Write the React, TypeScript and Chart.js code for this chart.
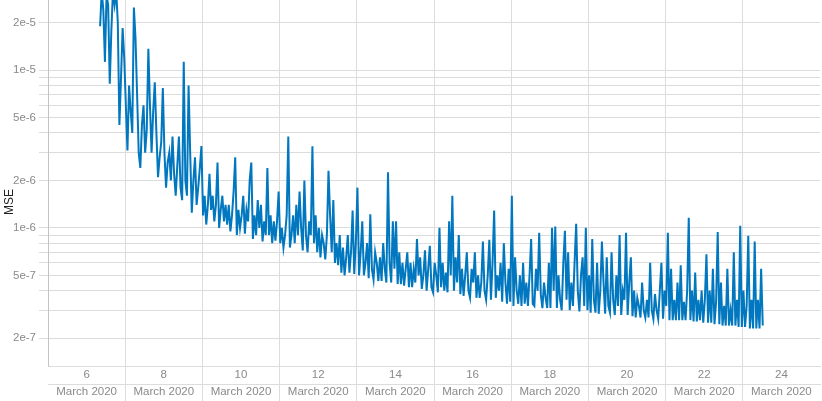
import { useEffect, useRef } from 'react';
import { Chart, registerables } from 'chart.js';

Chart.register(...registerables);

// Time axis: days of March 2020, one sample per hour
const DAY_START = 7.35;
const DAY_STEP = 1 / 24;

// MSE values in units of 1e-7
const mseE7 = [
  190, 320, 240, 113, 300, 260, 82, 180, 320, 260,
  320, 200, 45, 90, 185, 120, 60, 31, 80, 55,
  40, 250, 160, 70, 30, 24, 45, 60, 30, 42,
  137, 60, 30, 55, 84, 40, 21, 28, 35, 77,
  30, 18, 26, 30, 20, 38, 22, 16, 25, 38,
  18, 15, 113, 20, 16, 80, 30, 12.5, 20, 28,
  14, 18, 24, 33, 12, 16, 10.5, 14, 22, 13,
  16, 11, 14, 26, 10, 13, 16, 11, 14, 10.5,
  14, 9.5, 12, 17, 28, 9, 13, 10, 12, 16,
  9.2, 13, 11, 20, 26, 8.5, 12, 9, 15, 10,
  14, 8.2, 11, 9, 24, 9, 12, 8, 11, 8.3,
  11, 17, 8, 10, 7.5, 9, 12, 38, 7.5, 9,
  12, 8, 14, 9, 17, 10, 7.2, 20, 9, 7,
  11, 9, 33, 8, 12, 7, 10, 6.5, 9, 8,
  6.3, 9, 23, 12, 7, 15, 6, 8, 5.8, 9,
  5.2, 7.5, 5.0, 6.5, 9, 5.2, 7, 12.9, 5.1, 8,
  18, 5.0, 7, 11, 5.0, 6, 8, 4.8, 12.2, 5.5,
  4.7, 7, 6, 4.6, 6.5, 4.6, 8, 5.5, 4.5, 22.5,
  6, 4.5, 11, 5.5, 11, 4.4, 7, 4.4, 6, 4.3,
  5.5, 7, 4.2, 6, 4.2, 5.5, 4.5, 8.5, 5, 6.5,
  4.1, 5, 7.2, 4, 5.5, 7.7, 4.2, 3.9, 6, 5,
  3.9, 10, 4.2, 6, 4, 5.2, 3.9, 11, 5, 16,
  4, 6.5, 4.5, 9, 3.8, 5.5, 3.7, 5, 7, 4,
  3.6, 5.5, 4.5, 7, 3.6, 5, 3.6, 4.5, 8.2, 4,
  3.5, 5, 8.4, 3.5, 6, 12.9, 3.6, 5, 4, 6,
  3.4, 8, 4.5, 3.3, 5.5, 3.4, 16, 3.2, 6.5, 4,
  3.3, 5, 3.2, 6, 3.3, 4.5, 3.2, 5, 8.5, 3.3,
  3.2, 5.5, 4, 9.3, 3.8, 3.1, 4.5, 3.6, 3.1, 6,
  3.1, 10, 4, 10.2, 3.1, 5, 3.5, 3.0, 6, 9.6,
  3.5, 7, 3.0, 4.5, 3.2, 6, 10.6, 4, 2.95, 5,
  6.5, 3.2, 10, 3.0, 5, 2.9, 8.5, 3.5, 2.9, 6,
  2.85, 4, 8.2, 4.5, 2.85, 6.5, 3.2, 2.9, 7, 3.5,
  2.8, 5, 3.2, 9, 2.8, 4, 3.5, 9.3, 2.8, 4.5,
  6.5, 2.75, 4, 2.7, 3.6, 3.2, 2.7, 4.5, 3, 2.7,
  3.5, 2.7, 6, 3.0, 2.65, 3.8, 3.0, 2.65, 4, 6,
  2.65, 4, 3.2, 9.3, 2.6, 5.5, 2.6, 3.5, 2.6, 4.5,
  2.6, 5.8, 2.6, 3.4, 2.6, 4, 11.6, 2.6, 4, 2.55,
  5.2, 2.55, 3.5, 2.6, 4, 2.5, 3.5, 6.8, 2.5, 4,
  2.5, 5.5, 2.45, 3.4, 9.4, 2.45, 4.5, 2.4, 3.2, 2.4,
  5.5, 2.4, 3, 2.4, 7, 2.4, 3.5, 2.35, 10.3, 2.35,
  4, 2.35, 3.2, 8.9, 2.3, 3.5, 2.3, 8.2, 2.3, 3.5,
  2.3, 5.5, 2.4,
];

const X_MIN = 6;
const X_MAX = 26;
const X_STEP = 2;
const MONTH_LABEL = 'March 2020';

const Y_MIN = 1.33e-7;
const Y_MAX = 2.79e-5;
const Y_EXPONENTS = [-7, -6, -5];
const Y_LABEL_SIGNIFICANDS = [1, 2, 5];
const Y_TITLE = 'MSE';

export default function App() {
  const ref = useRef<HTMLCanvasElement>(null);

  useEffect(() => {
    document.body.style.margin = '0';
    const canvas = ref.current;
    if (!canvas) return;

    const points = mseE7.map((v, i) => ({ x: DAY_START + i * DAY_STEP, y: v * 1e-7 }));
    const family = "'Helvetica Neue', Helvetica, Arial, 'Liberation Sans', sans-serif";
    const tickFont = { family, size: 11.5 };
    const gridColor = '#dcdcdc';
    const tickTextColor = '#8a8a8a';

    const titlePlugin = {
      id: 'yTitle',
      afterDraw(chart: any) {
        const { ctx } = chart;
        ctx.save();
        ctx.translate(10, 202);
        ctx.rotate(-Math.PI / 2);
        ctx.textAlign = 'center';
        ctx.textBaseline = 'middle';
        ctx.font = `12px ${family}`;
        ctx.fillStyle = '#222';
        ctx.fillText(Y_TITLE, 0, 0);
        ctx.restore();
      },
    };

    const chart = new Chart(canvas, {
      type: 'line',
      data: {
        datasets: [
          {
            label: Y_TITLE,
            data: points,
            borderColor: '#0077be',
            backgroundColor: '#0077be',
            borderWidth: 2,
            pointRadius: 0,
            tension: 0,
            fill: false,
          },
        ],
      },
      options: {
        animation: false,
        responsive: false,
        maintainAspectRatio: false,
        layout: { padding: { left: 0, right: 2, top: 0, bottom: 0 } },
        plugins: { legend: { display: false }, tooltip: { enabled: false } },
        scales: {
          x: {
            type: 'linear',
            position: 'bottom',
            weight: 0,
            min: X_MIN,
            max: X_MAX,
            afterFit: (s: any) => { s.height = 18; s.paddingLeft = 0; s.paddingRight = 0; },
            ticks: {
              stepSize: X_STEP,
              autoSkip: false,
              maxRotation: 0,
              labelOffset: 38.6,
              padding: -16,
              color: tickTextColor,
              font: tickFont,
              callback: (v: any) => (v === X_MAX ? null : String(v)),
            },
            grid: {
              color: gridColor,
              tickLength: 18,
              tickColor: (c: any) => (c.index === 0 ? 'rgba(0,0,0,0)' : gridColor),
            },
            border: { display: true, color: gridColor },
          },
          x2: {
            type: 'linear',
            position: 'bottom',
            weight: 1,
            min: X_MIN,
            max: X_MAX,
            afterFit: (s: any) => { s.height = 17; s.paddingLeft = 0; s.paddingRight = 0; },
            ticks: {
              stepSize: X_STEP,
              autoSkip: false,
              maxRotation: 0,
              labelOffset: 38.6,
              padding: -16,
              color: tickTextColor,
              font: tickFont,
              callback: (v: any) => (v === X_MAX ? null : MONTH_LABEL),
            },
            grid: {
              drawOnChartArea: false,
              color: gridColor,
              tickLength: 17,
              tickColor: (c: any) => (c.index === 0 ? 'rgba(0,0,0,0)' : gridColor),
            },
            border: { display: true, color: gridColor },
          },
          y: {
            type: 'logarithmic',
            position: 'left',
            min: Y_MIN,
            max: Y_MAX,
            afterFit: (s: any) => { s.width = 48; s.paddingTop = 0; s.paddingBottom = 0; },
            afterBuildTicks: (s: any) => {
              const t: any[] = [{ value: Y_MIN }];
              for (const e of Y_EXPONENTS) {
                for (let m = 1; m <= 9; m++) {
                  const v = m * Math.pow(10, e);
                  if (v > Y_MIN && v < Y_MAX) t.push({ value: v });
                }
              }
              t.push({ value: Y_MAX });
              s.ticks = t;
            },
            ticks: {
              autoSkip: false,
              padding: 3,
              color: tickTextColor,
              font: tickFont,
              callback: (value: any) => {
                if (value === Y_MIN || value === Y_MAX) return null;
                const e = Math.floor(Math.log10(value) + 1e-9);
                const m = Math.round(value / Math.pow(10, e));
                return Y_LABEL_SIGNIFICANDS.includes(m) ? `${m}e${e}` : '';
              },
            },
            grid: { color: gridColor, tickLength: 9 },
            border: { display: true, color: '#c4c4c4' },
          },
        },
      },
      plugins: [titlePlugin],
    } as any);

    return () => chart.destroy();
  }, []);

  return (
    <div style={{ width: 822, height: 401 }}>
      <canvas ref={ref} width={822} height={401} style={{ display: 'block' }} />
    </div>
  );
}
